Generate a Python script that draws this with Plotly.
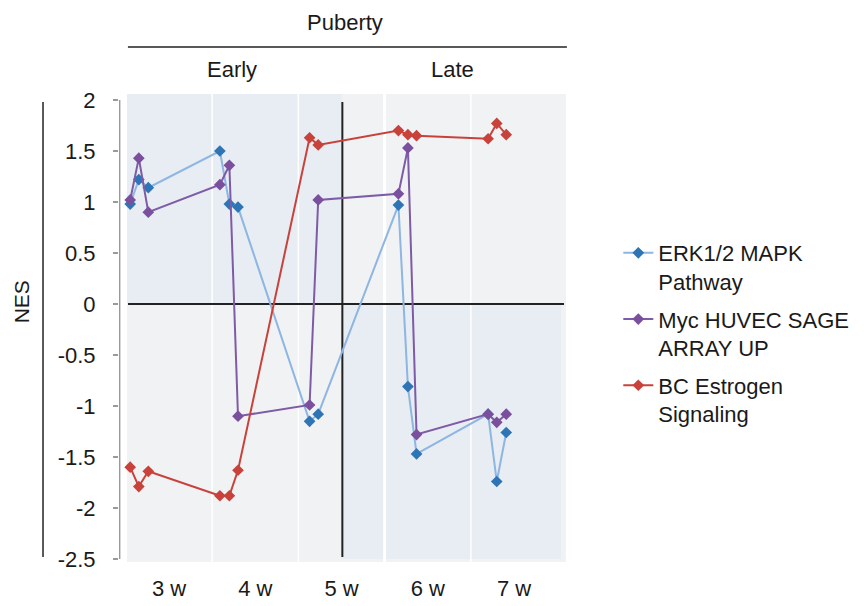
import plotly.graph_objects as go

# ---- data ----
week_labels = ["3 w", "4 w", "5 w", "6 w", "7 w"]
week_ticks = [3, 4, 5, 6, 7]
sample_x = [2.55, 2.65, 2.76, 3.59, 3.70, 3.80, 4.63, 4.73, 5.66, 5.77, 5.87, 6.70, 6.80, 6.91]
erk = [0.98, 1.22, 1.14, 1.50, 0.98, 0.95, -1.15, -1.08, 0.97, -0.81, -1.47, -1.08, -1.74, -1.26]
myc = [1.02, 1.43, 0.90, 1.17, 1.36, -1.10, -0.99, 1.02, 1.08, 1.53, -1.28, -1.08, -1.16, -1.08]
bc = [-1.60, -1.79, -1.64, -1.88, -1.88, -1.63, 1.63, 1.56, 1.70, 1.66, 1.65, 1.62, 1.77, 1.66]
series_names = ["ERK1/2 MAPK<br>Pathway", "Myc HUVEC SAGE<br>ARRAY UP", "BC Estrogen<br>Signaling"]
y_ticks = [2, 1.5, 1, 0.5, 0, -0.5, -1, -1.5, -2, -2.5]
y_ticktext = ["2", "1.5", "1", "0.5", "0", "-0.5", "-1", "-1.5", "-2", "-2.5"]

FONT = "Liberation Sans, Arial, sans-serif"
TXT = "#1a1a1a"
FS = 22

line_colors = ["#8db6e2", "#7e5ba6", "#c8423b"]
marker_colors = ["#2e75b6", "#7a4f9e", "#c8423b"]

fig = go.Figure()
for i, (name, vals) in enumerate(zip(series_names, [erk, myc, bc])):
    fig.add_trace(go.Scatter(
        x=sample_x, y=vals, name=name, mode="lines+markers",
        line=dict(color=line_colors[i], width=2),
        marker=dict(symbol="diamond", size=9, color=marker_colors[i]),
        legendgroup=f"g{i}",
    ))

XR = [2.4203, 7.6029]
YR = [-2.5294, 2.0588]
bluish = "#e8ecf3"
gray = "#f1f2f4"
shapes = []
# background
shapes.append(dict(type="rect", xref="x", yref="y", x0=2.513, x1=7.6029, y0=YR[0], y1=YR[1],
                   fillcolor=gray, line=dict(width=0), layer="below"))
shapes.append(dict(type="rect", xref="x", yref="y", x0=2.513, x1=5.0, y0=0, y1=YR[1],
                   fillcolor=bluish, line=dict(width=0), layer="below"))
shapes.append(dict(type="rect", xref="x", yref="y", x0=5.0, x1=7.545, y0=-2.5, y1=0,
                   fillcolor=bluish, line=dict(width=0), layer="below"))
for xb, w in [(3.5, 1.5), (4.5, 1.5), (5.5, 3), (6.5, 1.5)]:
    shapes.append(dict(type="line", xref="x", yref="y", x0=xb, x1=xb, y0=YR[0], y1=YR[1],
                       line=dict(color="white", width=w), layer="below"))
# quadrant lines
shapes.append(dict(type="line", xref="x", yref="y", x0=2.525, x1=7.58, y0=0, y1=0,
                   line=dict(color="#222222", width=2), layer="below"))
shapes.append(dict(type="line", xref="x", yref="y", x0=5.01, x1=5.01, y0=-2.48, y1=1.98,
                   line=dict(color="#222222", width=2), layer="below"))
# y axis line
shapes.append(dict(type="line", xref="x", yref="y", x0=2.428, x1=2.428, y0=-2.5, y1=2,
                   line=dict(color="#9a9a9a", width=1.5)))
# NES bracket
shapes.append(dict(type="line", xref="paper", yref="paper", x0=-0.170, x1=-0.170, y0=0.0107, y1=0.9829,
                   line=dict(color="#222222", width=1.5)))
# header line
shapes.append(dict(type="line", xref="paper", yref="paper", x0=0.020, x1=1.002, y0=1.1004, y1=1.1004,
                   line=dict(color="#222222", width=1.5)))

annotations = [
    dict(text="Puberty", x=0.5056, y=1.1538, xref="paper", yref="paper", showarrow=False,
         font=dict(size=FS, color=TXT, family=FONT), xanchor="center", yanchor="middle"),
    dict(text="Early", x=0.2528, y=1.0513, xref="paper", yref="paper", showarrow=False,
         font=dict(size=FS, color=TXT, family=FONT), xanchor="center", yanchor="middle"),
    dict(text="Late", x=0.745, y=1.0513, xref="paper", yref="paper", showarrow=False,
         font=dict(size=FS, color=TXT, family=FONT), xanchor="center", yanchor="middle"),
    dict(text="NES", x=-0.219, y=0.555, xref="paper", yref="paper", showarrow=False, textangle=-90,
         font=dict(size=21, color=TXT, family=FONT), xanchor="center", yanchor="middle"),
]

fig.update_layout(
    width=866, height=606,
    margin=dict(l=119, r=300, t=94, b=44, autoexpand=False),
    paper_bgcolor="white", plot_bgcolor="white",
    font=dict(family=FONT, color=TXT, size=FS),
    shapes=shapes, annotations=annotations,
    showlegend=True,
    legend=dict(x=1.117, y=0.705, xanchor="left", yanchor="top", valign="top",
                font=dict(size=FS, color=TXT, family=FONT), tracegroupgap=6,
                traceorder="grouped", bgcolor="rgba(0,0,0,0)"),
    xaxis=dict(range=XR, tickvals=week_ticks, ticktext=week_labels, showgrid=False, zeroline=False,
               showline=False, ticks="", tickfont=dict(size=FS, color=TXT, family=FONT),
               ticklabelstandoff=11, fixedrange=True, automargin=False),
    yaxis=dict(range=YR, tickvals=y_ticks, ticktext=y_ticktext, showgrid=False, zeroline=False,
               showline=False, ticks="outside", ticklen=5, tickwidth=1.5, tickcolor="#9a9a9a",
               tickfont=dict(size=FS, color=TXT, family=FONT), ticklabelstandoff=13, fixedrange=True,
               automargin=False),
)

fig.write_html("out.html")
